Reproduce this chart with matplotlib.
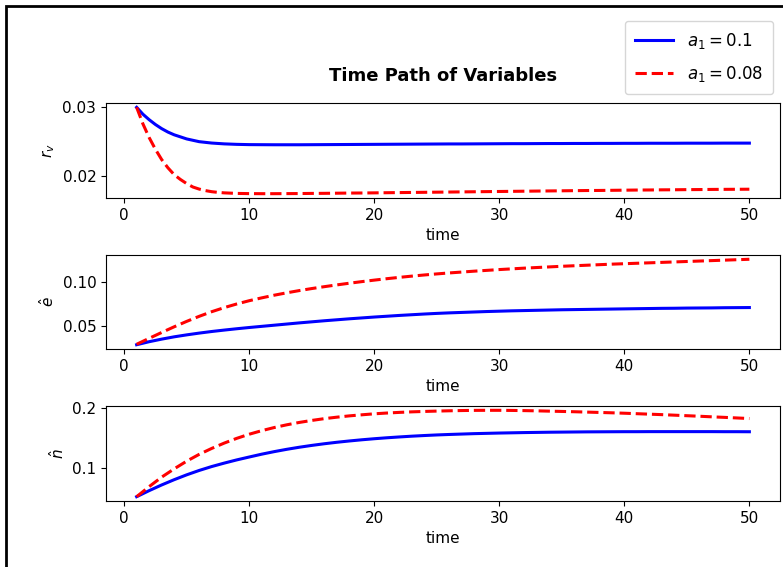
import matplotlib
matplotlib.use('Agg')
import matplotlib.pyplot as plt
from matplotlib.patches import Rectangle

# time axis
time = list(range(1, 51))
# r_v changes fast at the start, so it is read at half steps up to t=8
time_rv = [1, 1.5, 2, 2.5, 3, 3.5, 4, 4.5, 5, 5.5, 6, 6.5, 7, 7.5] + list(range(8, 51))

# r_v
rv_a010 = [0.0300, 0.0290, 0.0282, 0.0275, 0.0269, 0.0264, 0.0260, 0.0257, 0.0254, 0.0252,
           0.0250, 0.0249, 0.0248, 0.02474,
           0.02468, 0.02461, 0.02457,
           0.02456, 0.02455, 0.02455, 0.02455, 0.02456, 0.02457, 0.02458, 0.02459, 0.02460, 0.02461,
           0.02462, 0.02463, 0.02464, 0.02465, 0.02466, 0.02467, 0.02467, 0.02468, 0.02469, 0.02470,
           0.02471, 0.02471, 0.02472, 0.02473, 0.02473, 0.02474, 0.02474, 0.02475, 0.02475, 0.02476,
           0.02476, 0.02477, 0.02477, 0.02477, 0.02478, 0.02478, 0.02478, 0.02479, 0.02479, 0.02479]
rv_a008 = [0.0300, 0.0276, 0.0256, 0.0239, 0.0224, 0.0212, 0.0202, 0.0195, 0.0189, 0.0184,
           0.0181, 0.01788, 0.01772, 0.01762,
           0.01755, 0.01747, 0.01744,
           0.01743, 0.01743, 0.01744, 0.01745, 0.01747, 0.01748, 0.01750, 0.01752, 0.01753, 0.01755,
           0.01757, 0.01759, 0.01761, 0.01763, 0.01765, 0.01767, 0.01769, 0.01771, 0.01773, 0.01775,
           0.01777, 0.01779, 0.01781, 0.01783, 0.01785, 0.01787, 0.01789, 0.01790, 0.01792, 0.01794,
           0.01796, 0.01797, 0.01799, 0.01800, 0.01802, 0.01803, 0.01805, 0.01806, 0.01807, 0.01808]

# e hat
e_a010 = [0.0290, 0.0324, 0.0353, 0.0379, 0.0401, 0.0421, 0.0439, 0.0455, 0.0470, 0.0484,
          0.0497, 0.0510, 0.0523, 0.0536, 0.0548, 0.0560, 0.0571, 0.0582, 0.0592, 0.0602,
          0.0611, 0.0620, 0.0628, 0.0636, 0.0643, 0.0649, 0.0654, 0.0659, 0.0664, 0.0668,
          0.0672, 0.0675, 0.0678, 0.0681, 0.0684, 0.0686, 0.0688, 0.0690, 0.0692, 0.0694,
          0.0696, 0.0698, 0.0700, 0.0701, 0.0703, 0.0704, 0.0705, 0.0707, 0.0708, 0.0709]
e_a008 = [0.0295, 0.0362, 0.0428, 0.0492, 0.0553, 0.0610, 0.0662, 0.0708, 0.0749, 0.0786,
          0.0818, 0.0848, 0.0875, 0.0900, 0.0923, 0.0944, 0.0964, 0.0983, 0.1001, 0.1018,
          0.1034, 0.1049, 0.1063, 0.1076, 0.1088, 0.1099, 0.1109, 0.1119, 0.1128, 0.1137,
          0.1145, 0.1153, 0.1160, 0.1167, 0.1174, 0.1180, 0.1186, 0.1192, 0.1198, 0.1203,
          0.1208, 0.1213, 0.1218, 0.1223, 0.1228, 0.1233, 0.1238, 0.1243, 0.1248, 0.1253]

# n hat
n_a010 = [0.0510, 0.0612, 0.0708, 0.0797, 0.0879, 0.0953, 0.1019, 0.1077, 0.1131, 0.1180,
          0.1228, 0.1271, 0.1310, 0.1345, 0.1376, 0.1404, 0.1429, 0.1451, 0.1471, 0.1489,
          0.1505, 0.1519, 0.1532, 0.1543, 0.1553, 0.1561, 0.1568, 0.1575, 0.1580, 0.1585,
          0.1589, 0.1593, 0.1596, 0.1599, 0.1601, 0.1603, 0.1605, 0.1606, 0.1607, 0.1608,
          0.1608, 0.1609, 0.1609, 0.1609, 0.1609, 0.1609, 0.1609, 0.1608, 0.1608, 0.1607]
n_a008 = [0.0510, 0.0680, 0.0840, 0.0980, 0.1110, 0.1225, 0.1325, 0.1415, 0.1495, 0.1565,
          0.1625, 0.1678, 0.1724, 0.1764, 0.1798, 0.1828, 0.1853, 0.1875, 0.1893, 0.1910,
          0.1923, 0.1934, 0.1943, 0.1950, 0.1956, 0.1961, 0.1965, 0.1968, 0.1969, 0.1969,
          0.1967, 0.1964, 0.1960, 0.1955, 0.1950, 0.1945, 0.1939, 0.1933, 0.1927, 0.1920,
          0.1912, 0.1904, 0.1896, 0.1887, 0.1878, 0.1869, 0.1859, 0.1850, 0.1840, 0.1830]

labels = ['$a_1 = 0.1$', '$a_1 = 0.08$']
ylabels = ['$r_v$', r'$\hat{e}$', r'$\hat{n}$']
yticks = [[0.02, 0.03], [0.05, 0.10], [0.1, 0.2]]
series = [(time_rv, rv_a010, rv_a008), (time, e_a010, e_a008), (time, n_a010, n_a008)]

W, H = 783, 567
fig = plt.figure(figsize=(W / 100, H / 100), dpi=100)

# axes boxes in pixels: (top, bottom)
boxes = [(103, 198), (255, 349), (406, 501)]
left, right = 106, 780

axes = []
for (top, bot), (t, blue, red), ylab, yt in zip(boxes, series, ylabels, yticks):
    ax = fig.add_axes([left / W, 1 - bot / H, (right - left) / W, (bot - top) / H])
    l1, = ax.plot(t, blue, color='blue', lw=2.2, label=labels[0])
    l2, = ax.plot(t, red, color='red', lw=2.2, ls='--', label=labels[1])
    ax.set_yticks(yt)
    ax.set_xticks([0, 10, 20, 30, 40, 50])
    ax.tick_params(labelsize=11)
    ax.set_xlabel('time', fontsize=11)
    ax.set_ylabel(ylab, fontsize=11)
    axes.append(ax)

fig.align_ylabels(axes)
axes[0].set_title('Time Path of Variables', fontweight='bold', fontsize=13, pad=16)

fig.legend([l1, l2], labels, loc='upper right', fontsize=12,
           bbox_to_anchor=(773 / W, 1 - 21 / H), borderaxespad=0,
           labelspacing=0.8, handlelength=2.3, borderpad=0.6)

# black frame of the screenshot
fig.patches.append(Rectangle((6 / W, -0.1), 1.2, 1 - 6 / H + 0.1, transform=fig.transFigure,
                             fill=False, lw=2, ec='black'))

fig.savefig('out.png', dpi=100)
